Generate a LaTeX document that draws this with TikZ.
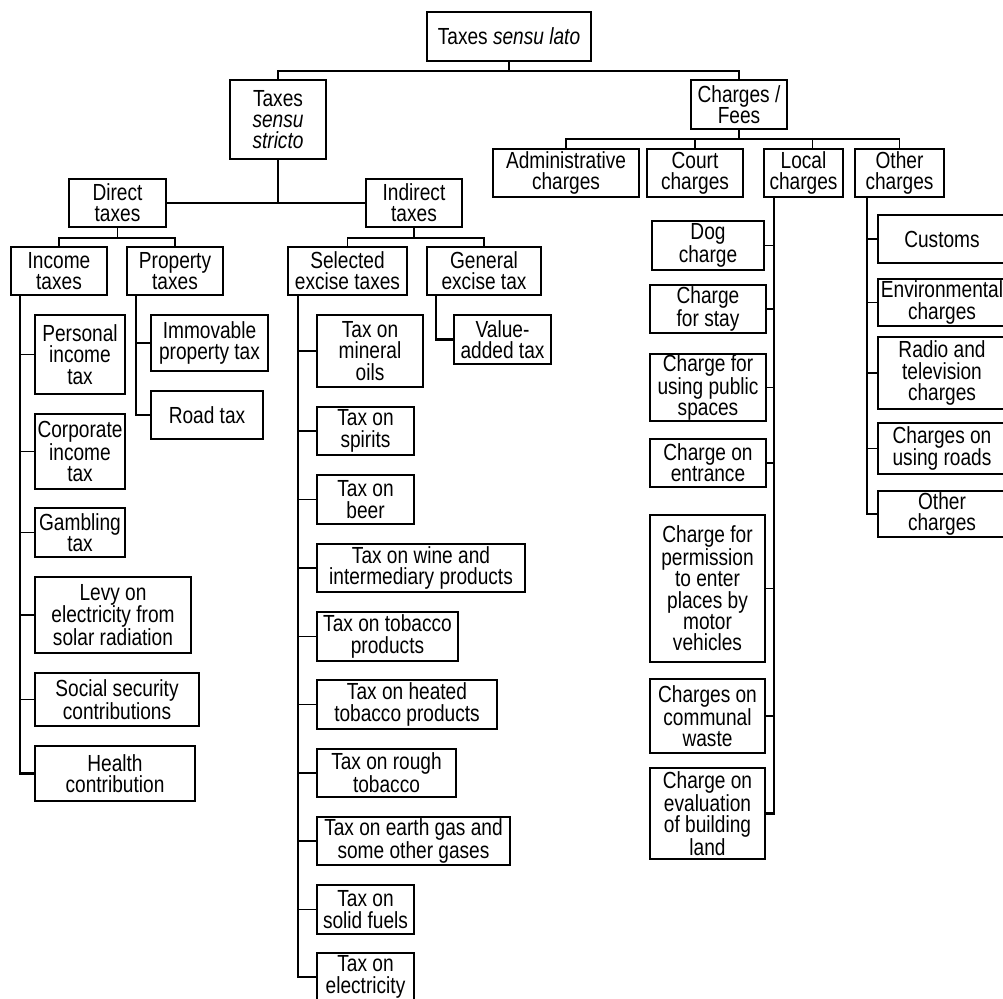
\documentclass[tikz,border=0pt]{standalone}
\usepackage{fontspec}
\setmainfont{Liberation Sans}[FakeStretch=0.82]
\newcommand\bx[6]{\node[bxs,minimum width={(#3-#1)*1pt},minimum height={(#4-#2)*1pt}] (#5) at ({(#1+#3)/2},{(#2+#4)/2}) {#6};}
\begin{document}
\begin{tikzpicture}[x=1pt,y=-1pt,
  bxs/.style={draw=black,line width=1.4pt,inner sep=0pt,align=center,fill=white,
    font=\fontsize{23.3}{21.3}\selectfont},
  conn/.style={line width=1.6pt},
  trunk/.style={line width=2.1pt}]
\useasboundingbox (0,0) rectangle (1003,998);
\clip (0,0) rectangle (1003,998);
% level 0-1
\bx{427}{12}{591}{61}{top}{Taxes \textit{sensu lato}}
\bx{230}{80}{326}{159}{ss}{Taxes\\\textit{sensu}\\\textit{stricto}}
\bx{691}{80}{787}{129}{cf}{Charges /\\Fees}
% level 2
\bx{69}{179}{166}{227}{dt}{Direct\\taxes}
\bx{366}{179}{462}{227}{it}{Indirect\\taxes}
\bx{493}{149}{639}{197}{adm}{Administrative\\charges}
\bx{647}{149}{743}{197}{court}{Court\\charges}
\bx{764}{149}{843}{197}{loc}{Local\\charges}
\bx{855}{149}{944}{197}{oth}{Other\\charges}
% level 3
\bx{11}{247}{107}{295}{inc}{Income\\taxes}
\bx{127}{247}{223}{295}{prop}{Property\\taxes}
\bx{288}{247}{407}{295}{sel}{Selected\\excise taxes}
\bx{427}{247}{541}{295}{gen}{General\\excise tax}
% income taxes
\bx{35}{315}{125}{394}{pit}{Personal\\income\\tax}
\bx{35}{414}{125}{489}{cit}{Corporate\\income\\tax}
\bx{35}{508}{125}{557}{gt}{Gambling\\tax}
\bx{35}{577}{191}{653}{levy}{Levy on\\electricity from\\solar radiation}
\bx{35}{673}{199}{726}{ssc}{Social security\\contributions}
\bx{35}{746}{195}{801}{hc}{Health\\contribution}
% property taxes
\bx{151}{315}{268}{371}{ipt}{Immovable\\property tax}
\bx{151}{391}{263}{439}{rt}{Road tax}
% selected excise
\bx{317}{315}{423}{387}{mo}{Tax on\\mineral\\oils}
\bx{317}{407}{414}{455}{sp}{Tax on\\spirits}
\bx{317}{475}{414}{524}{beer}{Tax on\\beer}
\bx{317}{544}{525}{592}{wine}{Tax on wine and\\intermediary products}
\bx{317}{612}{458}{661}{tob}{Tax on tobacco\\products}
\bx{317}{680}{497}{729}{heat}{Tax on heated\\tobacco products}
\bx{317}{749}{456}{797}{rough}{Tax on rough\\tobacco}
\bx{317}{817}{510}{865}{gas}{Tax on earth gas and\\some other gases}
\bx{317}{885}{414}{934}{solid}{Tax on\\solid fuels}
\bx{317}{953}{414}{1001}{elec}{Tax on\\electricity}
% general excise
\bx{454}{315}{551}{364}{vat}{Value-\\added tax}
% local charges
\bx{652}{221}{764}{270}{dog}{Dog\\charge}
\bx{650}{285}{766}{333}{stay}{Charge\\for stay}
\bx{650}{354}{766}{421}{pub}{Charge for\\using public\\spaces}
\bx{650}{439}{766}{487}{ent}{Charge on\\entrance}
\bx{650}{515}{765}{662}{perm}{Charge for\\permission\\to enter\\places by\\motor\\vehicles}
\bx{650}{679}{765}{753}{waste}{Charges on\\communal\\waste}
\bx{650}{768}{765}{859}{eval}{Charge on\\evaluation\\of building\\land}
% other charges
\bx{878}{215}{1006}{263}{cus}{Customs}
\bx{878}{279}{1006}{326}{env}{Environmental\\charges}
\bx{878}{337}{1006}{409}{radio}{Radio and\\television\\charges}
\bx{878}{423}{1006}{474}{roads}{Charges on\\using roads}
\bx{878}{491}{1006}{537}{ooth}{Other\\charges}
% connectors top
\draw[conn] (top.south) -- ++(0,9) coordinate (j0);
\draw[conn] (ss.north) |- (j0) -| (cf.north);
\draw[trunk] (ss.south) -- (ss.south |- dt.east);
\draw[conn] (dt.east) -- (it.west);
\draw[conn] (dt.south) -- ++(0,10) coordinate (j1);
\draw[conn] (inc.north) |- (j1) -| (prop.north);
\draw[conn] (it.south) -- ++(0,10) coordinate (j2);
\draw[conn] (sel.north) |- (j2) -| (gen.north);
\draw[conn] (cf.south) -- ++(0,9) coordinate (j3);
\draw[conn] (adm.north) |- (j3) -| (oth.north);
\draw[conn] (court.north) -- (court.north |- j3);
\draw[conn] ([xshift=9pt]loc.north) -- ([xshift=9pt]loc.north |- j3);
% trunks
\coordinate (tI) at ([xshift=10pt]inc.south west);
\draw[trunk] (tI) |- (hc.west);
\foreach \c in {pit,cit,gt,levy,ssc} \draw[conn] (\c.west) -- (\c.west -| tI);
\coordinate (tP) at ([xshift=10pt]prop.south west);
\draw[trunk] (tP) |- (rt.west);
\draw[conn] (ipt.west) -- (ipt.west -| tP);
\coordinate (tS) at ([xshift=11pt]sel.south west);
\draw[trunk] (tS) |- (elec.west);
\foreach \c in {mo,sp,beer,wine,tob,heat,rough,gas,solid} \draw[conn] (\c.west) -- (\c.west -| tS);
\coordinate (tG) at ([xshift=10pt]gen.south west);
\draw[trunk] (tG) |- (vat.west);
\coordinate (tL) at ([xshift=11pt]loc.south west);
\draw[trunk] (tL) |- (eval.east);
\foreach \c in {dog,stay,pub,ent,perm,waste} \draw[conn] (\c.east) -- (\c.east -| tL);
\coordinate (tO) at ([xshift=13pt]oth.south west);
\draw[trunk] (tO) |- (ooth.west);
\foreach \c in {cus,env,radio,roads} \draw[conn] (\c.west) -- (\c.west -| tO);
\end{tikzpicture}
\end{document}
